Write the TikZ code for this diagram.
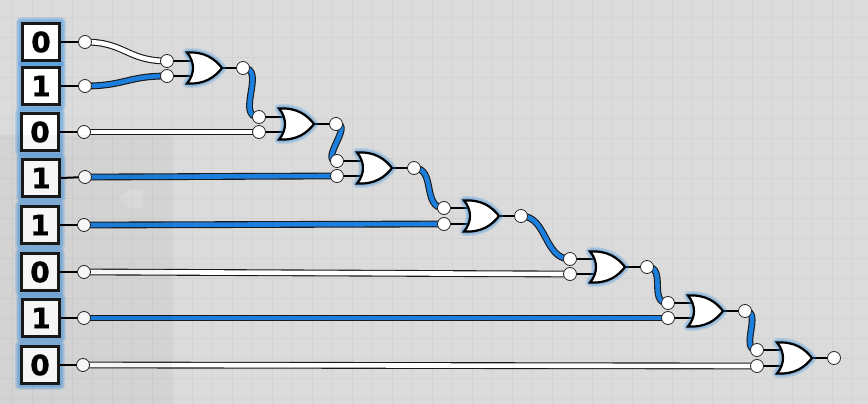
\documentclass[tikz,border=0pt]{standalone}
\usepackage{fontspec}
\setmainfont{DejaVu Sans}
\newfontfamily\digitfont[FakeBold=1.2]{DejaVu Sans Bold}
\definecolor{bgc}{HTML}{DBDBDB}
\definecolor{gridc}{HTML}{D3D3D3}
\definecolor{wireblue}{HTML}{1C7FDE}
\definecolor{glowc}{HTML}{2F8BE0}
\tikzset{
  x=1pt,y=-1pt,
  pin/.style={circle,draw=black!85,line width=0.8pt,fill=white,minimum size=13pt,inner sep=0pt},
  stub/.style={black,line width=2pt},
  inbox/.style={draw=black!90!white,line width=2.6pt,fill=white,minimum size=37.5pt,inner sep=0pt,font=\digitfont\fontsize{28}{28}\selectfont},
  glowa/.style={draw=glowc,draw opacity=0.16,line width=#1,line join=round},
}
\newcommand{\wireon}[3][30]{%
  \draw[black!90,line width=6.8pt] (#2.center) .. controls +(#1,0) and +(-#1,0) .. (#3.center);
  \draw[wireblue,line width=4.6pt] (#2.center) .. controls +(#1,0) and +(-#1,0) .. (#3.center);}
\newcommand{\wireoff}[3][30]{%
  \draw[black!90,line width=6.8pt] (#2.center) .. controls +(#1,0) and +(-#1,0) .. (#3.center);
  \draw[white,line width=4.6pt] (#2.center) .. controls +(#1,0) and +(-#1,0) .. (#3.center);}
\newcommand{\orpath}[2]{% left x, center y
  (#1,#2-15.5) .. controls (#1+18,#2-16.5) and (#1+28,#2-9) .. (#1+35,#2)
  .. controls (#1+28,#2+9) and (#1+18,#2+16.5) .. (#1,#2+15.5)
  .. controls (#1+8,#2+6) and (#1+8,#2-6) .. cycle}
\newcommand{\orgate}[2]{%
  \foreach \w in {9,7,5,3}{\path[glowa=\w pt] \orpath{#1}{#2};}
  \draw[black,fill=white,line width=2.2pt,line join=miter] \orpath{#1}{#2};}
\newcommand{\boxglow}[2]{%
  \foreach \w in {10,8,6,4}{\path[glowa=\w pt] (#1-20,#2-20) rectangle (#1+20,#2+20);}}
\begin{document}
\begin{tikzpicture}
\useasboundingbox (0,0) rectangle (868,404);
\fill[bgc] (0,0) rectangle (868,404);
\foreach \i in {0,...,42}{\draw[gridc,line width=1pt] (12+20*\i,0) -- (12+20*\i,404);}
\foreach \i in {0,...,19}{\draw[gridc,line width=1pt] (0,18+20*\i) -- (868,18+20*\i);}

% inputs
\foreach \x/\y in {41/42,41/86,40/132,41/178,40/225,40/272,41/318,40/365}{\boxglow{\x}{\y}}
\node[inbox] (i1) at (41,42) {0};
\node[inbox] (i2) at (41,86) {1};
\node[inbox] (i3) at (40,132) {0};
\node[inbox] (i4) at (41,178) {1};
\node[inbox] (i5) at (40,225) {1};
\node[inbox] (i6) at (40,272) {0};
\node[inbox] (i7) at (41,318) {1};
\node[inbox] (i8) at (40,365) {0};

% pin coordinates
\coordinate (a1) at (85,42);
\coordinate (a2) at (85,86);
\coordinate (a3) at (84,132);
\coordinate (a4) at (85,177);
\coordinate (a5) at (84,225);
\coordinate (a6) at (84,272);
\coordinate (a7) at (84,318);
\coordinate (a8) at (83,365);
\coordinate (g1t) at (167,61);  \coordinate (g1b) at (167,76);  \coordinate (g1o) at (243,68);
\coordinate (g2t) at (259,117); \coordinate (g2b) at (259,132); \coordinate (g2o) at (336,124);
\coordinate (g3t) at (337,161); \coordinate (g3b) at (337,176); \coordinate (g3o) at (414,168);
\coordinate (g4t) at (444,208); \coordinate (g4b) at (444,224); \coordinate (g4o) at (521,216);
\coordinate (g5t) at (570,259); \coordinate (g5b) at (570,274); \coordinate (g5o) at (647,267);
\coordinate (g6t) at (668,303); \coordinate (g6b) at (668,318); \coordinate (g6o) at (745,311);
\coordinate (g7t) at (757,350); \coordinate (g7b) at (757,366); \coordinate (g7o) at (834,358);

% wires
\wireoff[40]{a1}{g1t}
\wireon[40]{a2}{g1b}
\wireon[24]{g1o}{g2t}
\wireoff{a3}{g2b}
\wireon[18]{g2o}{g3t}
\wireon{a4}{g3b}
\wireon[22]{g3o}{g4t}
\wireon{a5}{g4b}
\wireon[26]{g4o}{g5t}
\wireoff{a6}{g5b}
\wireon[20]{g5o}{g6t}
\wireon{a7}{g6b}
\wireon[18]{g6o}{g7t}
\wireoff{a8}{g7b}

% stubs
\foreach \n in {1,...,8}{\draw[stub] (i\n.east) -- (a\n);}
\foreach \g/\lx/\cy in {1/187/68,2/279/124,3/357/168,4/464/216,5/590/267,6/688/311,7/777/358}{
  \draw[stub] (g\g t) -- (\lx+6,\cy-7.5 |- g\g t);
  \draw[stub] (g\g b) -- (\lx+6,\cy+7.5 |- g\g b);
  \draw[stub] (\lx+35,\cy) -- (g\g o);
  \orgate{\lx}{\cy}
}

% pins
\foreach \c in {a1,a2,a3,a4,a5,a6,a7,a8,g1t,g1b,g1o,g2t,g2b,g2o,g3t,g3b,g3o,g4t,g4b,g4o,g5t,g5b,g5o,g6t,g6b,g6o,g7t,g7b,g7o}{
  \node[pin] (p\c) at (\c) {};
}

% faint panel laid over the left side
\fill[black,opacity=0.035] (0,135) rectangle (172,404);
\fill[white,opacity=0.14] (119,198) -- (129,189) -- (143,189) -- (143,208) -- (129,208) -- cycle;
\end{tikzpicture}
\end{document}
